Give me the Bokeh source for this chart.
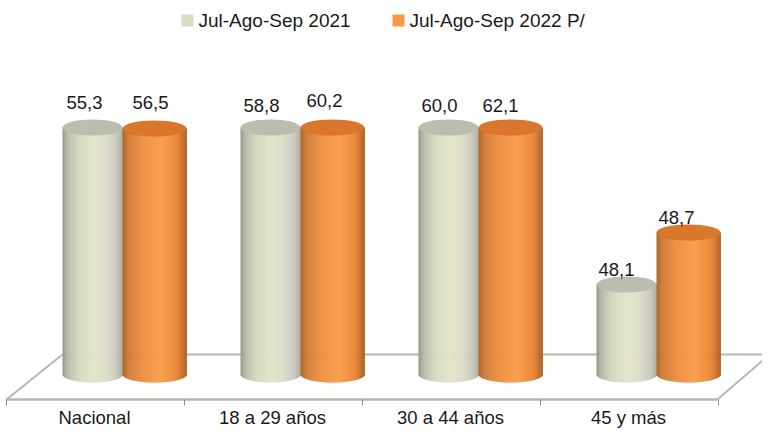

from bokeh.plotting import figure
from bokeh.models import Range1d
from bokeh.core.properties import value
from bokeh.embed import file_html
from bokeh.resources import INLINE
import numpy as np

categories = ["Nacional", "18 a 29 años", "30 a 44 años", "45 y más"]
series_names = ["Jul-Ago-Sep 2021", "Jul-Ago-Sep 2022 P/"]
labels_2021 = ["55,3", "58,8", "60,0", "48,1"]
labels_2022 = ["56,5", "60,2", "62,1", "48,7"]
# The source drawing is not proportional: lengths (px above the base)
drawn_2021 = [247, 247, 247, 90]
drawn_2022 = [246, 247, 247, 142]

FONT = value("Liberation Sans")
FS = "18.5px"
# 762 x 430 fits the 778 x 446 window inside the page's 8px margin
W, H = 762, 430
OX, BASE = 123, 374
p = figure(width=W, height=H, output_backend="svg", toolbar_location=None,
           x_range=Range1d(-OX, W - OX), y_range=Range1d(BASE - H, BASE), min_border=0)
p.xaxis.visible = False
p.yaxis.visible = False
p.xgrid.visible = False
p.ygrid.visible = False
p.outline_line_color = None
p.background_fill_color = "white"

SP = 178
ry = 8
dodge = 31

# floor
fy_front, fy_back = -25, 20
fx0, fx1 = -117, 594
floor_col = "#b7b7b0"
p.line([fx0, fx1], [fy_front, fy_front], line_color=floor_col, line_width=2.5)
p.line([fx0, fx0 + 56], [fy_front, fy_back], line_color=floor_col, line_width=2)
p.line([fx1, fx1 + 52], [fy_front, fy_back], line_color=floor_col, line_width=2)
p.line([fx0 + 56, fx1 + 52], [fy_back, fy_back], line_color=floor_col, line_width=2)
for i in range(5):
    p.segment(fx0 + i * SP, fy_front, fx0 + i * SP, fy_front - 6, line_color="#8f8f8f", line_width=1)

stops_light = [(0, "#8f9185"), (.08, "#b5b7a6"), (.25, "#d3d5bd"), (.5, "#e3e5c8"), (.72, "#dcdcc8"), (.9, "#c9c7bd"), (1, "#a9a99c")]
stops_orange = [(0, "#a9601f"), (.1, "#d07a35"), (.3, "#ec8c3e"), (.6, "#f99c47"), (.85, "#e98433"), (1, "#ab5e20")]

def lerp(stops, t):
    xs = [s[0] for s in stops]
    rgb = np.array([[int(s[1][i:i + 2], 16) for i in (1, 3, 5)] for s in stops])
    return "#%02x%02x%02x" % tuple(int(round(np.interp(t, xs, rgb[:, k]))) for k in range(3))

def cylinder(cx, h, stops, top_col, hw):
    n = int(hw * 2)
    edges = np.linspace(-hw, hw, n + 1)
    l, r = edges[:-1], edges[1:]
    mid = (l + r) / 2
    bot = -ry * np.sqrt(np.clip(1 - (mid / hw) ** 2, 0, 1))
    cols = [lerp(stops, (m + hw) / (2 * hw)) for m in mid]
    p.quad(left=cx + l, right=cx + r + .4, bottom=bot, top=[h] * n, fill_color=cols, line_color=None)
    p.ellipse(x=[cx], y=[h], width=[hw * 2], height=[ry * 2], fill_color=top_col, line_color=None)

for i in range(4):
    cx = i * SP
    cylinder(cx - dodge, drawn_2021[i], stops_light, "#bcbdae", 30)
    cylinder(cx + dodge, drawn_2022[i], stops_orange, "#d9772c", 32)

# data labels
nudge_x_2021 = [-39, -40, -40, -41]
nudge_x_2022 = [27, 23, 21, 19]
lift_2021 = [25, 22, 22, 15]
lift_2022 = [26, 27, 22, 15]
for i in range(4):
    cx = i * SP
    p.text([cx + nudge_x_2021[i]], [drawn_2021[i] + lift_2021[i]], text=[labels_2021[i]], text_font=FONT,
           text_font_size=FS, text_align="center", text_baseline="middle", text_color="#1a1a1a")
    p.text([cx + nudge_x_2022[i]], [drawn_2022[i] + lift_2022[i]], text=[labels_2022[i]], text_font=FONT,
           text_font_size=FS, text_align="center", text_baseline="middle", text_color="#1a1a1a")

# category labels (raised a little so the descenders stay inside the figure)
for i, c in enumerate(categories):
    p.text([i * SP - 29], [-43], text=[c], text_font=FONT, text_font_size=FS,
           text_align="center", text_baseline="middle", text_color="#1a1a1a")

# legend
ly = 354
for sx, tx, col, name in [(58, 75, "#dddcc5", series_names[0]), (269, 286, "#f89a48", series_names[1])]:
    p.quad(left=[sx], right=[sx + 12], bottom=[ly - 6], top=[ly + 6], fill_color=col, line_color=None)
    p.text([tx], [ly], text=[name], text_font=FONT, text_font_size="19px", text_align="left",
           text_baseline="middle", text_color="#1a1a1a")

open("out.html", "w").write(file_html(p, INLINE))
